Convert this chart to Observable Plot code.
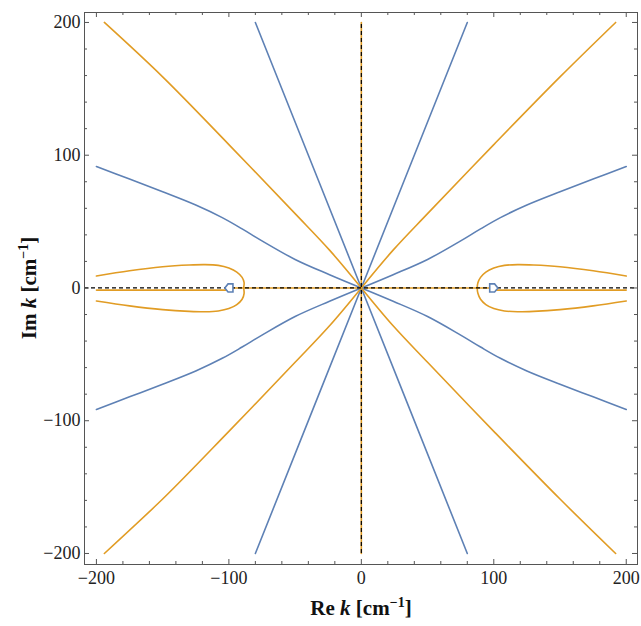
<!DOCTYPE html>
<html><head><meta charset="utf-8">
<script src="https://cdn.jsdelivr.net/npm/d3@7"></script>
<script src="https://cdn.jsdelivr.net/npm/@observablehq/plot@0.6"></script>
<style>
body{margin:0;background:#fff;}
#chart svg{display:block;}
</style></head><body><div id="chart"></div>
<script>
// ---- tick values ----
const majorTicks = [-200, -100, 0, 100, 200];
const minorTicks = [-180, -160, -140, -120, -80, -60, -40, -20, 20, 40, 60, 80, 120, 140, 160, 180];

// ---- blue contours (Re part) ----
const blueSteepA = [[-80, -200], [0, 0], [80, 200]];
const blueSteepB = [[-80, 200], [0, 0], [80, -200]];
const blueCurveQ1 = [[0, 0], [24, 10], [50, 21.5], [75, 35.5], [90, 44.5], [105, 53], [125, 62.5], [150, 72.5], [175, 82], [200, 91.5]];
const blueCurveQ2 = [[0, 0], [-24, 10], [-50, 21.5], [-75, 35.5], [-90, 44.5], [-105, 53], [-125, 62.5], [-150, 72.5], [-175, 82], [-200, 91.5]];
const blueCurveQ3 = [[0, 0], [-24, -10], [-50, -21.5], [-75, -35.5], [-90, -44.5], [-105, -53], [-125, -62.5], [-150, -72.5], [-175, -82], [-200, -91.5]];
const blueCurveQ4 = [[0, 0], [24, -10], [50, -21.5], [75, -35.5], [90, -44.5], [105, -53], [125, -62.5], [150, -72.5], [175, -82], [200, -91.5]];

// ---- orange contours (Im part) ----
const orangeDiagQ1 = [[0, 0], [24, 28.5], [50, 56], [100, 108], [150, 159], [192, 200]];
const orangeDiagQ2 = [[0, 0], [-24, 28.5], [-50, 56], [-100, 108], [-150, 159], [-194, 200]];
const orangeDiagQ3 = [[0, 0], [-24, -28.5], [-50, -56], [-100, -108], [-150, -159], [-194, -200]];
const orangeDiagQ4 = [[0, 0], [24, -28.5], [50, -56], [100, -108], [150, -159], [192, -200]];
const orangeLoopRight = [[200, 9], [175, 13], [150, 16], [130, 17.3], [118, 17.6], [108, 17], [100, 15], [94, 12], [90, 8], [88, 4], [87.5, 0], [88, -4], [90, -8.5], [94, -12.5], [100, -15.5], [108, -17.3], [118, -17.9], [130, -17.6], [150, -16.3], [175, -13.5], [200, -9.8]];
const orangeLoopLeft = [[-200, 9], [-175, 13], [-150, 16], [-130, 17.3], [-118, 17.6], [-108, 17], [-100, 15], [-94, 12], [-90, 8], [-88.5, 4], [-88.8, 0], [-88.5, -4], [-90, -8.5], [-94, -12.5], [-100, -15.5], [-108, -17.3], [-118, -17.9], [-130, -17.6], [-150, -16.3], [-175, -13.5], [-200, -9.8]];
const orangeCutLeft = [[-200, -1.6], [-100, -1.6]];
const orangeCutRight = [[100, -1.6], [200, -1.6]];
const orangeAxisH = [[-100, 0], [100, 0]];
const orangeAxisV = [[0, -200], [0, 200]];

// ---- reference lines and branch points ----
const zeroLine = [0];
const verticalDash = [{x: 0, y1: -200, y2: 200}];
const branchPoints = [{x: -100, y: 0, turn: 180}, {x: 100, y: 0, turn: 0}];

const BLUE = "#5E81B5", ORANGE = "#E19C24", FRAME = "#555";
const SERIF = "'Liberation Serif', 'Times New Roman', serif";
const W = 641, H = 626, ML = 84, MR = 4, MT = 12, MB = 62;
const innerW = W - ML - MR, innerH = H - MT - MB;
const fmt = d => d < 0 ? "\u2212" + (-d) : String(d);

const houseRight = {
  draw(ctx, size) {
    const s = Math.sqrt(size) / 2;
    ctx.moveTo(-s, -s); ctx.lineTo(s * 0.2, -s); ctx.lineTo(s, 0);
    ctx.lineTo(s * 0.2, s); ctx.lineTo(-s, s); ctx.closePath();
  }
};

const line = (data, stroke) => Plot.line(data, {x: d => d[0], y: d => d[1], stroke, strokeWidth: 1.6, curve: "catmull-rom"});

const chart = Plot.plot({
  width: W, height: H,
  marginLeft: ML, marginRight: MR, marginTop: MT, marginBottom: MB,
  x: {domain: [-209, 208.5]},
  y: {domain: [-208.3, 207.5]},
  style: {fontFamily: SERIF, background: "white", color: "#222"},
  marks: [
    line(orangeAxisH, ORANGE), line(orangeAxisV, ORANGE),
    line(orangeCutLeft, ORANGE), line(orangeCutRight, ORANGE),
    line(blueSteepA, BLUE), line(blueSteepB, BLUE),
    line(blueCurveQ1, BLUE), line(blueCurveQ2, BLUE), line(blueCurveQ3, BLUE), line(blueCurveQ4, BLUE),
    line(orangeDiagQ1, ORANGE), line(orangeDiagQ2, ORANGE), line(orangeDiagQ3, ORANGE), line(orangeDiagQ4, ORANGE),
    line(orangeLoopRight, ORANGE), line(orangeLoopLeft, ORANGE),
    Plot.ruleY(zeroLine, {y: d => d, stroke: "#000", strokeWidth: 1.2, strokeDasharray: "4,3"}),
    Plot.ruleX(verticalDash, {x: "x", y1: "y1", y2: "y2", stroke: "#000", strokeWidth: 1.2, strokeDasharray: "4,3"}),
    Plot.dot(branchPoints, {x: "x", y: "y", r: 4.6, symbol: houseRight, rotate: "turn", stroke: BLUE, strokeWidth: 1.6, fill: "white"}),
    // frame ticks (inward)
    Plot.tickX(majorTicks, {x: d => d, stroke: FRAME, insetTop: innerH - 5}),
    Plot.tickX(majorTicks, {x: d => d, stroke: FRAME, insetBottom: innerH - 5}),
    Plot.tickY(majorTicks, {y: d => d, stroke: FRAME, insetRight: innerW - 5}),
    Plot.tickY(majorTicks, {y: d => d, stroke: FRAME, insetLeft: innerW - 5}),
    Plot.tickX(minorTicks, {x: d => d, stroke: FRAME, insetTop: innerH - 3}),
    Plot.tickX(minorTicks, {x: d => d, stroke: FRAME, insetBottom: innerH - 3}),
    Plot.tickY(minorTicks, {y: d => d, stroke: FRAME, insetRight: innerW - 3}),
    Plot.tickY(minorTicks, {y: d => d, stroke: FRAME, insetLeft: innerW - 3}),
    Plot.axisX(majorTicks, {anchor: "bottom", tickSize: 0, tickPadding: 7, fontSize: 18, fontFamily: SERIF, tickFormat: fmt, label: null}),
    Plot.axisY(majorTicks, {anchor: "left", tickSize: 0, tickPadding: 4, fontSize: 18, fontFamily: SERIF, tickFormat: fmt, label: null}),
    Plot.frame({stroke: FRAME, strokeWidth: 1})
  ]
});
document.getElementById("chart").appendChild(chart);
d3.select(chart).selectAll("text").attr("font-family", SERIF);

// axis titles with mixed styling
const svg = d3.select(chart);
function title(sel, main) {
  sel.attr("font-family", SERIF)
     .attr("font-weight", "bold").attr("font-size", 21).attr("fill", "#111")
     .attr("text-anchor", "middle");
  sel.append("tspan").text(main + " ");
  sel.append("tspan").attr("font-style", "italic").text("k");
  sel.append("tspan").text(" [cm");
  sel.append("tspan").attr("font-size", 14).attr("dy", -8).text("\u22121");
  sel.append("tspan").attr("dy", 8).text("]");
}
title(svg.append("text").attr("x", 361).attr("y", 615), "Re");
title(svg.append("text").attr("transform", "translate(36,288) rotate(-90)"), "Im");
</script></body></html>
